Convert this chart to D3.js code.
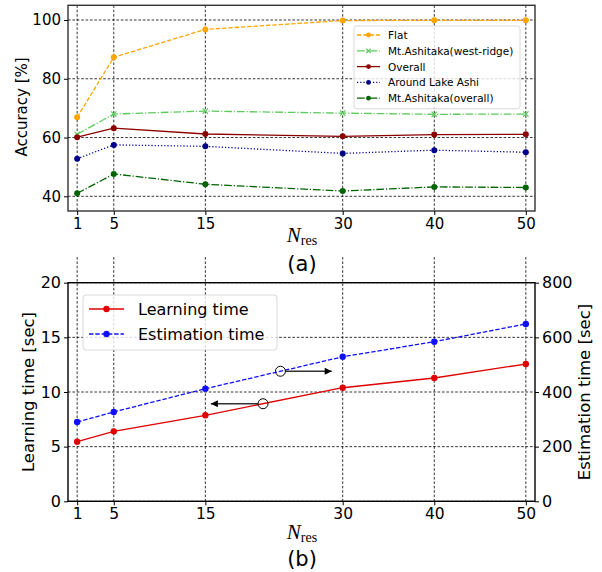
<!DOCTYPE html>
<html>
<head>
<meta charset="utf-8">
<script src="https://cdn.jsdelivr.net/npm/d3@7"></script>
<style>
  html, body { margin: 0; padding: 0; background: #fff; }
  svg { display: block; font-family: "DejaVu Sans", sans-serif; }
</style>
</head>
<body>
<svg id="fig" width="602" height="572"></svg>
<script>
// ---- data ----
const nRes = [1, 5, 15, 30, 40, 50];
const xTicks = [1, 5, 15, 30, 40, 50];

const accFlat = [66.9, 87.3, 96.8, 99.8, 99.9, 99.9];
const accWestRidge = [61.1, 68.0, 69.0, 68.3, 67.9, 68.0];
const accOverall = [60.1, 63.2, 61.2, 60.4, 61.0, 61.1];
const accLakeAshi = [52.8, 57.5, 57.0, 54.6, 55.7, 55.0];
const accAshitakaOverall = [41.0, 47.6, 44.1, 41.8, 43.2, 43.0];
const accTicks = [40, 60, 80, 100];

const learningTime = [5.45, 6.40, 7.87, 10.39, 11.28, 12.56];   // sec, left axis
const estimationTime = [290, 327, 412, 529, 584, 649];          // sec, right axis
const learnTicks = [0, 5, 10, 15, 20];
const estTicks = [0, 200, 400, 600, 800];

// arrow annotations: marker on a curve at x, arrow pointing toward its axis
const annotations = [
  { series: "estimation", x: 23.2, toX: 28.8 },
  { series: "learning", x: 21.3, toX: 15.6 }
];

const svg = d3.select("#fig");

// dash patterns in the style of matplotlib line styles
const DASH = { solid: null, dashed: "4.4,1.9", dashdot: "7.7,1.9,1.2,1.9", dotted: "1.2,2" };

function interp(xsArr, ysArr, x) {
  for (let i = 0; i < xsArr.length - 1; i++) {
    if (x >= xsArr[i] && x <= xsArr[i + 1]) {
      const t = (x - xsArr[i]) / (xsArr[i + 1] - xsArr[i]);
      return ysArr[i] + t * (ysArr[i + 1] - ysArr[i]);
    }
  }
  return ysArr[ysArr.length - 1];
}

function drawMarker(g, shape, cx, cy, color, r) {
  if (shape === "x") {
    const s = r * 0.9;
    g.append("path")
      .attr("d", `M${cx - s},${cy - s}L${cx + s},${cy + s}M${cx - s},${cy + s}L${cx + s},${cy - s}`)
      .attr("stroke", color).attr("stroke-width", 1.2).attr("fill", "none");
  } else {
    g.append("circle").attr("cx", cx).attr("cy", cy).attr("r", r).attr("fill", color);
  }
}

// ---- shared x scale ----
const plotL = 68, plotR = 535;
const x = d3.scaleLinear().domain([0, 51]).range([plotL, plotR]);

// ================= panel (a): accuracy =================
const aTop = 5.3, aBot = 211;
const yA = d3.scaleLinear().domain([35, 105]).range([aBot, aTop]);

const gA = svg.append("g");

// grid
gA.append("g").selectAll("line").data(xTicks).join("line")
  .attr("x1", d => x(d)).attr("x2", d => x(d)).attr("y1", aTop).attr("y2", aBot)
  .attr("stroke", "#000").attr("stroke-width", 0.8).attr("stroke-dasharray", "2.6,1.8");
gA.append("g").selectAll("line").data(accTicks).join("line")
  .attr("x1", plotL).attr("x2", plotR).attr("y1", d => yA(d)).attr("y2", d => yA(d))
  .attr("stroke", "#000").attr("stroke-width", 0.8).attr("stroke-dasharray", "2.6,1.8");

const accSeries = [
  { name: "Flat", values: accFlat, color: "#FFA500", dash: DASH.dashed, marker: "o" },
  { name: "Mt.Ashitaka(west-ridge)", values: accWestRidge, color: "#5BCB5B", dash: DASH.dashdot, marker: "x" },
  { name: "Overall", values: accOverall, color: "#8B0000", dash: DASH.solid, marker: "o" },
  { name: "Around Lake Ashi", values: accLakeAshi, color: "#00008B", dash: DASH.dotted, marker: "o" },
  { name: "Mt.Ashitaka(overall)", values: accAshitakaOverall, color: "#006400", dash: DASH.dashdot, marker: "o" }
];

const lineA = d3.line().x(d => x(d[0])).y(d => yA(d[1]));
accSeries.forEach(s => {
  const pts = nRes.map((n, i) => [n, s.values[i]]);
  gA.append("path").attr("d", lineA(pts)).attr("fill", "none")
    .attr("stroke", s.color).attr("stroke-width", 1.3)
    .attr("stroke-dasharray", s.dash);
  const gm = gA.append("g");
  pts.forEach(p => drawMarker(gm, s.marker, x(p[0]), yA(p[1]), s.color, 3));
});

// frame
gA.append("rect").attr("x", plotL).attr("y", aTop).attr("width", plotR - plotL).attr("height", aBot - aTop)
  .attr("fill", "none").attr("stroke", "#333").attr("stroke-width", 1.4);

// axes
const axA_x = d3.axisBottom(x).tickValues(xTicks).tickSize(4).tickPadding(3).tickFormat(d3.format("d"));
gA.append("g").attr("transform", `translate(0,${aBot})`).call(axA_x)
  .call(g => g.select(".domain").remove())
  .call(g => g.selectAll("text").attr("font-size", 15).attr("fill", "#000").attr("font-family", "DejaVu Sans"));
const axA_y = d3.axisLeft(yA).tickValues(accTicks).tickSize(4).tickPadding(3);
gA.append("g").attr("transform", `translate(${plotL},0)`).call(axA_y)
  .call(g => g.select(".domain").remove())
  .call(g => g.selectAll("text").attr("font-size", 15).attr("fill", "#000").attr("font-family", "DejaVu Sans"));

gA.append("text").attr("transform", `translate(22,107) rotate(-90)`)
  .attr("text-anchor", "middle").attr("dominant-baseline", "central")
  .attr("font-size", 15).text("Accuracy [%]");

// legend (a)
const legA = gA.append("g");
legA.append("rect").attr("x", 354).attr("y", 26).attr("width", 166).attr("height", 82.7).attr("rx", 2.5)
  .attr("fill", "#fff").attr("fill-opacity", 0.8).attr("stroke", "#d0d0d0").attr("stroke-width", 0.8);
accSeries.forEach((s, i) => {
  const yy = 35 + i * 15.8;
  legA.append("line").attr("x1", 357).attr("x2", 380).attr("y1", yy).attr("y2", yy)
    .attr("stroke", s.color).attr("stroke-width", 1.3).attr("stroke-dasharray", s.dash);
  drawMarker(legA, s.marker, 368.5, yy, s.color, 2.4);
  legA.append("text").attr("x", 388).attr("y", yy).attr("dominant-baseline", "central")
    .attr("font-size", 10.5).text(s.name);
});

// x label + caption
function xLabel(g, cx, baseline) {
  const t = g.append("text").attr("x", cx).attr("y", baseline).attr("text-anchor", "middle")
    .attr("font-family", "Liberation Serif, DejaVu Serif, serif").attr("fill", "#000");
  t.append("tspan").attr("font-style", "italic").attr("font-size", 21).text("N");
  t.append("tspan").attr("font-size", 14).attr("dy", 2.5).text("res");
}
xLabel(gA, 302, 242);
gA.append("text").attr("x", 302).attr("y", 271).attr("text-anchor", "middle")
  .attr("font-size", 21).text("(a)");

// ================= panel (b): timing =================
const bTop = 282.7, bBot = 501.3;
const yL = d3.scaleLinear().domain([0, 20]).range([bBot, bTop]);
const yR = d3.scaleLinear().domain([0, 800]).range([bBot, bTop]);

const gB = svg.append("g");

// grid (vertical grid lines run up into the gap above the panel)
gB.append("g").selectAll("line").data(xTicks).join("line")
  .attr("x1", d => x(d)).attr("x2", d => x(d)).attr("y1", 257).attr("y2", bBot)
  .attr("stroke", "#000").attr("stroke-width", 0.8).attr("stroke-dasharray", "2.6,1.8");
gB.append("g").selectAll("line").data(learnTicks).join("line")
  .attr("x1", plotL).attr("x2", plotR).attr("y1", d => yL(d)).attr("y2", d => yL(d))
  .attr("stroke", "#000").attr("stroke-width", 0.8).attr("stroke-dasharray", "2.6,1.8");

const timeSeries = [
  { key: "learning", name: "Learning time", values: learningTime, y: yL, color: "#E00000", dash: DASH.solid },
  { key: "estimation", name: "Estimation time", values: estimationTime, y: yR, color: "#1010FF", dash: DASH.dashed }
];

timeSeries.forEach(s => {
  const pts = nRes.map((n, i) => [n, s.values[i]]);
  const ln = d3.line().x(d => x(d[0])).y(d => s.y(d[1]));
  gB.append("path").attr("d", ln(pts)).attr("fill", "none")
    .attr("stroke", s.color).attr("stroke-width", 1.3).attr("stroke-dasharray", s.dash);
  pts.forEach(p => drawMarker(gB, "o", x(p[0]), s.y(p[1]), s.color, 3.2));
});

// arrow annotations
const defs = svg.append("defs");
defs.append("marker").attr("id", "arrowhead").attr("viewBox", "0 0 10 10")
  .attr("refX", 10).attr("refY", 5).attr("markerWidth", 9).attr("markerHeight", 7)
  .attr("markerUnits", "userSpaceOnUse").attr("orient", "auto")
  .append("path").attr("d", "M0,0L10,5L0,10Z").attr("fill", "#000");

annotations.forEach(a => {
  const s = timeSeries.find(t => t.key === a.series);
  const cx = x(a.x), cy = s.y(interp(nRes, s.values, a.x));
  const r = 5;
  const dir = a.toX > a.x ? 1 : -1;
  gB.append("line").attr("x1", cx + dir * r).attr("y1", cy).attr("x2", x(a.toX)).attr("y2", cy)
    .attr("stroke", "#333").attr("stroke-width", 1.4).attr("marker-end", "url(#arrowhead)");
  gB.append("circle").attr("cx", cx).attr("cy", cy).attr("r", r)
    .attr("fill", "none").attr("stroke", "#000").attr("stroke-width", 1);
});

// frame
gB.append("rect").attr("x", plotL).attr("y", bTop).attr("width", plotR - plotL).attr("height", bBot - bTop)
  .attr("fill", "none").attr("stroke", "#000").attr("stroke-width", 1.4);

// axes
const styleTicks = size => g => g.selectAll("text").attr("font-size", size).attr("fill", "#000").attr("font-family", "DejaVu Sans");
gB.append("g").attr("transform", `translate(0,${bBot})`)
  .call(d3.axisBottom(x).tickValues(xTicks).tickSize(4).tickPadding(3).tickFormat(d3.format("d")))
  .call(g => g.select(".domain").remove()).call(styleTicks(15.5));
gB.append("g").attr("transform", `translate(${plotL},0)`)
  .call(d3.axisLeft(yL).tickValues(learnTicks).tickSize(4).tickPadding(3))
  .call(g => g.select(".domain").remove()).call(styleTicks(16));
gB.append("g").attr("transform", `translate(${plotR},0)`)
  .call(d3.axisRight(yR).tickValues(estTicks).tickSize(4).tickPadding(3))
  .call(g => g.select(".domain").remove()).call(styleTicks(16));

gB.append("text").attr("transform", `translate(28,392) rotate(-90)`)
  .attr("text-anchor", "middle").attr("dominant-baseline", "central")
  .attr("font-size", 16.5).text("Learning time [sec]");
gB.append("text").attr("transform", `translate(584,392) rotate(-90)`)
  .attr("text-anchor", "middle").attr("dominant-baseline", "central")
  .attr("font-size", 16.5).text("Estimation time [sec]");

// legend (b)
const legB = gB.append("g");
legB.append("rect").attr("x", 83).attr("y", 295).attr("width", 194).attr("height", 55).attr("rx", 3)
  .attr("fill", "#fff").attr("fill-opacity", 0.8).attr("stroke", "#d0d0d0").attr("stroke-width", 0.8);
timeSeries.forEach((s, i) => {
  const yy = 309 + i * 25;
  legB.append("line").attr("x1", 89).attr("x2", 124).attr("y1", yy).attr("y2", yy)
    .attr("stroke", s.color).attr("stroke-width", 1.3).attr("stroke-dasharray", s.dash);
  drawMarker(legB, "o", 106.5, yy, s.color, 3.2);
  legB.append("text").attr("x", 138).attr("y", yy).attr("dominant-baseline", "central")
    .attr("font-size", 16).text(s.name);
});

xLabel(gB, 302, 539);
gB.append("text").attr("x", 302).attr("y", 566).attr("text-anchor", "middle")
  .attr("font-size", 21).text("(b)");
</script>
</body>
</html>
